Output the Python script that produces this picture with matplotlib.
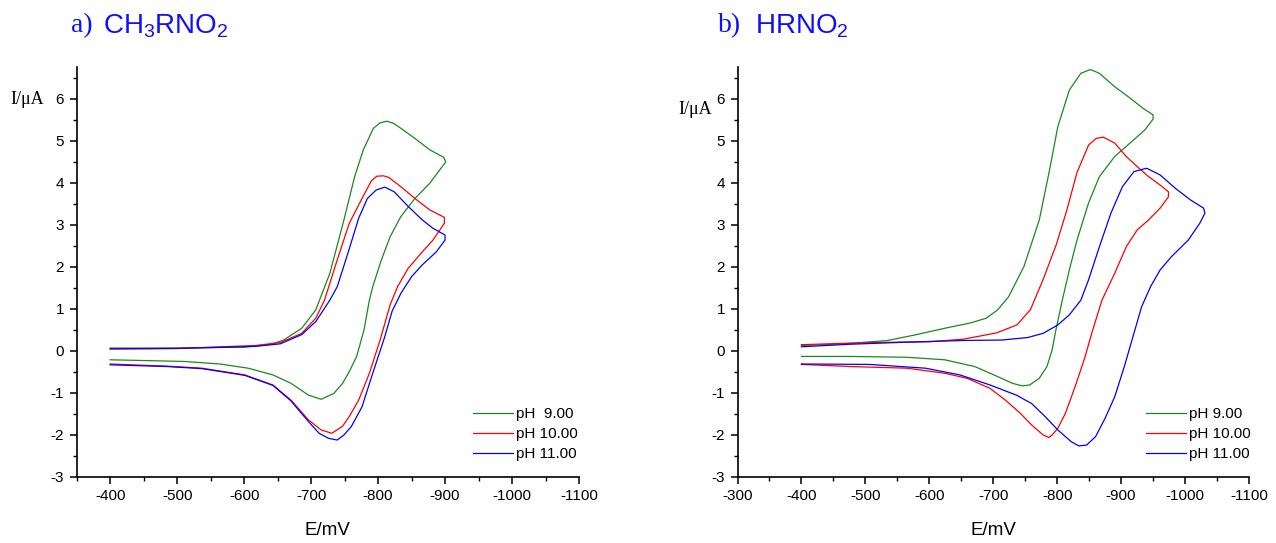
import matplotlib
matplotlib.use('Agg')
import matplotlib.pyplot as plt
from matplotlib.ticker import MultipleLocator

plt.rcParams['font.family'] = ['Liberation Sans', 'DejaVu Sans']
plt.rcParams['mathtext.default'] = 'regular'
plt.rcParams['axes.unicode_minus'] = False

# ---- data: cyclic voltammograms, E in mV, I in uA ----
# panel a) CH3RNO2
a_ph9_E = [-400, -500, -600, -640, -659, -686, -707, -728, -749, -765, -778, -793, -803, -813,
           -823, -834, -855, -877, -898, -901,
           -877, -855, -834, -818, -805, -792, -787, -779, -768, -757, -747, -734, -715,
           -696, -670, -643, -606, -564, -511, -458, -400]
a_ph9_I = [0.07, 0.07, 0.09, 0.16, 0.26, 0.54, 0.98, 1.85, 3.12, 4.15, 4.79, 5.30, 5.43, 5.47,
           5.42, 5.30, 5.06, 4.79, 4.61, 4.50,
           3.99, 3.63, 3.20, 2.72, 2.17, 1.53, 1.21, 0.50, -0.13, -0.49, -0.77, -1.01, -1.15,
           -1.05, -0.77, -0.57, -0.41, -0.31, -0.25, -0.23, -0.21]

a_ph10_E = [-400, -500, -617, -654, -686, -707, -720, -739, -757, -776, -790, -798, -808, -816,
            -834, -855, -877, -899,
            -899, -882, -866, -845, -829, -818, -803, -787, -771, -757, -747, -731, -715,
            -696, -670, -643, -601, -537, -484, -400]
a_ph10_I = [0.05, 0.06, 0.13, 0.20, 0.42, 0.78, 1.21, 2.17, 3.04, 3.63, 4.05, 4.16, 4.17, 4.13,
            3.91, 3.63, 3.36, 3.18,
            3.04, 2.64, 2.36, 1.97, 1.53, 1.10, 0.26, -0.53, -1.17, -1.56, -1.79, -1.96, -1.88,
            -1.64, -1.17, -0.81, -0.57, -0.41, -0.36, -0.31]

a_ph11_E = [-400, -500, -617, -654, -686, -707, -728, -739, -755, -771, -784, -797, -810,
            -824, -845, -866, -882, -900,
            -900, -887, -866, -850, -834, -821, -810, -792, -776, -760, -749, -739, -726,
            -712, -696, -670, -643, -601, -537, -484, -400]
a_ph11_I = [0.05, 0.06, 0.11, 0.17, 0.39, 0.70, 1.21, 1.53, 2.33, 3.16, 3.63, 3.83, 3.90,
            3.79, 3.44, 3.12, 2.92, 2.76,
            2.64, 2.36, 2.05, 1.77, 1.37, 0.95, 0.34, -0.53, -1.33, -1.80, -2.00, -2.12, -2.08,
            -1.96, -1.68, -1.19, -0.82, -0.58, -0.42, -0.37, -0.33]

# panel b) HRNO2
b_ph9_E = [-400, -476, -535, -577, -624, -665, -689, -707, -724, -748, -772, -787, -801,
           -819, -837, -852, -866, -890, -914, -934, -950,
           -950, -937, -914, -890, -866, -849, -831, -819, -808, -798, -792, -784, -772,
           -757, -745, -730, -701, -671, -624, -565, -476, -400]
b_ph9_I = [0.13, 0.18, 0.25, 0.38, 0.54, 0.67, 0.78, 0.98, 1.29, 2.01, 3.12, 4.23, 5.34,
           6.21, 6.61, 6.70, 6.61, 6.29, 6.02, 5.78, 5.62,
           5.52, 5.26, 4.95, 4.63, 4.15, 3.52, 2.64, 1.93, 1.21, 0.50, 0.02, -0.37, -0.65,
           -0.81, -0.83, -0.77, -0.57, -0.37, -0.21, -0.15, -0.13, -0.13]

b_ph10_E = [-400, -506, -601, -653, -705, -737, -758, -778, -799, -815, -831, -849, -861,
            -872, -890, -908, -925, -943, -961, -974,
            -974, -961, -943, -925, -908, -890, -870, -854, -843, -828, -813, -801, -792,
            -787, -778, -760, -742, -719, -695, -659, -624, -565, -476, -400]
b_ph10_I = [0.15, 0.20, 0.22, 0.28, 0.43, 0.62, 0.98, 1.70, 2.55, 3.35, 4.25, 4.90, 5.06,
            5.09, 4.95, 4.63, 4.39, 4.15, 3.95, 3.79,
            3.67, 3.40, 3.12, 2.88, 2.48, 1.85, 1.21, 0.42, -0.17, -0.85, -1.48, -1.84, -2.00,
            -2.06, -2.00, -1.76, -1.48, -1.17, -0.89, -0.65, -0.53, -0.41, -0.37, -0.32]

b_ph11_E = [-400, -476, -565, -654, -713, -754, -778, -801, -819, -837, -849, -866, -884,
            -902, -920, -940, -961, -985, -1008, -1029,
            -1031, -1023, -1005, -979, -961, -946, -932, -920, -905, -890, -875, -860, -846,
            -834, -822, -801, -781, -760, -736, -695, -648, -594, -506, -400]
b_ph11_I = [0.10, 0.16, 0.21, 0.25, 0.26, 0.32, 0.42, 0.62, 0.86, 1.21, 1.69, 2.48, 3.28,
            3.91, 4.27, 4.35, 4.19, 3.87, 3.60, 3.40,
            3.28, 3.04, 2.64, 2.25, 1.93, 1.53, 1.05, 0.42, -0.37, -1.09, -1.60, -2.04, -2.24,
            -2.26, -2.16, -1.88, -1.56, -1.25, -1.05, -0.81, -0.57, -0.41, -0.32, -0.31]

labels_a = ['pH  9.00', 'pH 10.00', 'pH 11.00']
labels_b = ['pH 9.00', 'pH 10.00', 'pH 11.00']
colors = ['#1a8a1a', '#ff0000', '#0000ff']

W, H = 1276, 543
fig = plt.figure(figsize=(W / 100, H / 100), dpi=100)
ax1 = fig.add_axes([76.7 / W, 1 - 477 / H, 502.3 / W, 410 / H])
ax2 = fig.add_axes([737.5 / W, 1 - 477 / H, 511.5 / W, 410 / H])

for ax, curves, labels in [
        (ax1, [(a_ph9_E, a_ph9_I), (a_ph10_E, a_ph10_I), (a_ph11_E, a_ph11_I)], labels_a),
        (ax2, [(b_ph9_E, b_ph9_I), (b_ph10_E, b_ph10_I), (b_ph11_E, b_ph11_I)], labels_b)]:
    for (E, I), c, lab in zip(curves, colors, labels):
        ax.plot(E, I, color=c, lw=0.9, label=lab)
    ax.set_ylim(-3, 6.76)
    ax.yaxis.set_major_locator(MultipleLocator(1))
    ax.yaxis.set_minor_locator(MultipleLocator(0.5))
    ax.xaxis.set_major_locator(MultipleLocator(100))
    ax.xaxis.set_minor_locator(MultipleLocator(50))
    for s in ['top', 'right']:
        ax.spines[s].set_visible(False)
    for s in ['left', 'bottom']:
        ax.spines[s].set_linewidth(1.2)
    ax.tick_params(which='major', direction='out', length=5, width=1.1, labelsize=11, pad=4)
    ax.tick_params(which='minor', direction='out', length=3, width=1.0)
    ax.set_xlabel('E/mV', fontsize=13.5, labelpad=13)
    ax.legend(loc='upper left', frameon=False, fontsize=11, handlelength=2.6,
              handletextpad=0.2, labelspacing=0.4, borderpad=0, borderaxespad=0)

ax1.set_xlim(-350, -1100)
ax2.set_xlim(-300, -1100)
ax1.get_legend().set_bbox_to_anchor((473 / W, 1 - 407 / H), transform=fig.transFigure)
ax2.get_legend().set_bbox_to_anchor((1146 / W, 1 - 407 / H), transform=fig.transFigure)

# y labels
fig.text(10 / W, 1 - 100 / H, 'I/\u03bcA', family='Liberation Serif', fontsize=13,
         ha='left', va='center')
fig.text(678 / W, 1 - 109 / H, 'I/\u03bcA', family='Liberation Serif', fontsize=13,
         ha='left', va='center')

# panel titles
fig.text(71 / W, 1 - 26 / H, 'a)', family='Liberation Serif', fontsize=20,
         color='#1010ff', ha='left', va='center')
fig.text(103 / W, 1 - 26 / H, 'CH$_3$RNO$_2$', fontsize=20,
         color='#1010ff', ha='left', va='center')
fig.text(718 / W, 1 - 26 / H, 'b)', family='Liberation Serif', fontsize=20,
         color='#1010ff', ha='left', va='center')
fig.text(755 / W, 1 - 26 / H, 'HRNO$_2$', fontsize=20,
         color='#1010ff', ha='left', va='center')

fig.savefig('out.png', dpi=100)
